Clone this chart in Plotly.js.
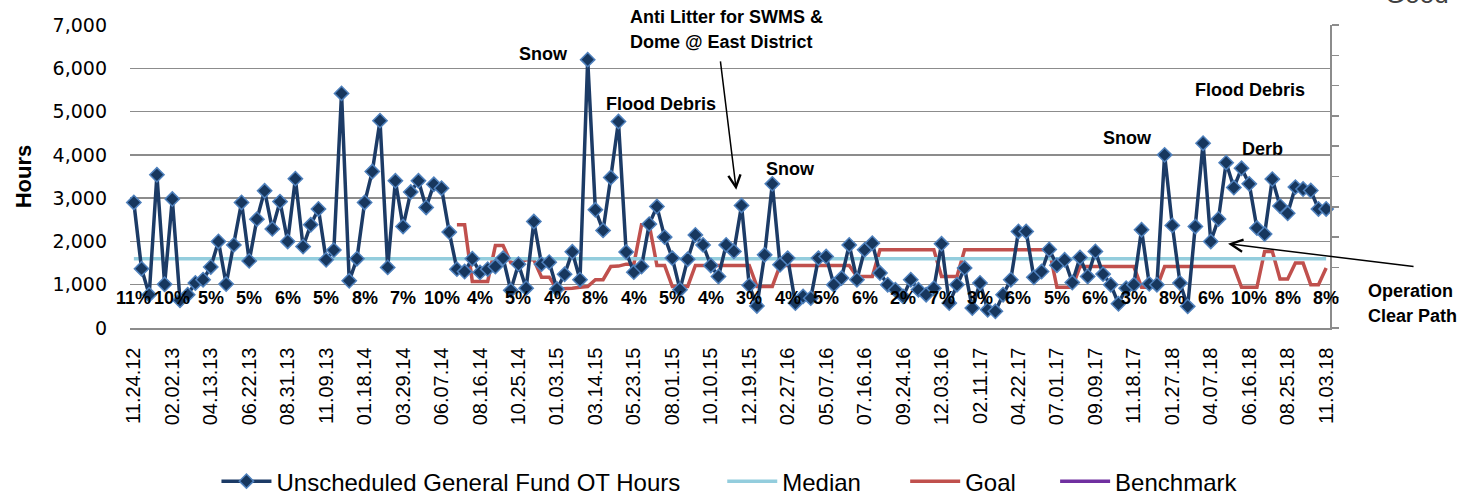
<!DOCTYPE html>
<html><head><meta charset="utf-8">
<script src="https://cdn.plot.ly/plotly-3.0.1.min.js"></script>
<style>html,body{margin:0;padding:0;background:#fff;} #chart{width:1468px;height:498px;}</style>
</head><body><div id="chart"></div>
<script>
// ---------- DATA ----------
const startDate = '2012-11-24';   // first bi-weekly period
const periodDays = 14;
const otHours = [
 2900,1370,770,3540,1010,2980,640,770,1040,1115,
 1410,2000,1015,1920,2900,1550,2515,3170,2290,2920,
 2000,3450,1880,2385,2750,1575,1800,5420,1090,1600,
 2900,3615,4790,1400,3400,2345,3140,3400,2785,3320,
 3230,2215,1360,1305,1600,1285,1360,1420,1615,870,
 1475,920,2460,1475,1520,900,1240,1760,1115,6200,
 2730,2255,3475,4770,1755,1290,1420,2400,2805,2100,
 1615,885,1590,2150,1920,1445,1190,1920,1770,2830,
 985,510,1690,3330,1460,1615,575,730,690,1615,
 1650,1000,1155,1920,1115,1805,1960,1270,1000,885,
 730,1115,885,770,920,1945,575,1000,1385,460,
 1040,420,385,770,1115,2230,2230,1170,1305,1815,
 1450,1575,1050,1630,1190,1770,1245,1000,560,920,
 1000,2270,1020,1000,4000,2370,1040,500,2345,4270,
 2000,2520,3820,3245,3690,3330,2310,2170,3440,2820,
 2650,3255,3210,3175,2750,2750
];
const medianValue = 1600;
const goalStartIndex = 42;
const goalHours = [
 2385,2385,1075,1075,1075,1905,1905,1515,1515,1575,
 1575,1175,1175,900,900,920,940,960,1115,1115,
 1420,1430,1475,1475,2385,2385,1445,1445,960,960,
 960,1445,1445,1445,1445,1445,1445,1445,1445,960,
 960,960,1445,1445,1445,1445,1445,1445,1445,1445,
 1445,1445,1190,1190,1190,1805,1805,1805,1805,1805,
 1805,1805,1805,1190,1190,1190,1805,1805,1805,1805,
 1805,1805,1805,1805,1805,1805,1805,1805,940,940,
 940,1420,1420,1420,1420,1420,1420,1420,1420,940,
 940,940,1420,1420,1420,1420,1420,1420,1420,1420,
 1420,1420,940,940,940,1770,1770,1130,1130,1500,
 1500,1000,1000,1385
];
const benchmarkHours = [null];   // no benchmark values shown in the chart
const tickLabels = ['11.24.12','02.02.13','04.13.13','06.22.13','08.31.13','11.09.13','01.18.14','03.29.14',
 '06.07.14','08.16.14','10.25.14','01.03.15','03.14.15','05.23.15','08.01.15','10.10.15','12.19.15',
 '02.27.16','05.07.16','07.16.16','09.24.16','12.03.16','02.11.17','04.22.17','07.01.17','09.09.17',
 '11.18.17','01.27.18','04.07.18','06.16.18','08.25.18','11.03.18'];
const pctLabels = ['11%','10%','5%','5%','6%','5%','8%','7%','10%','4%','5%','4%','8%','4%','5%','4%',
 '3%','4%','5%','6%','2%','7%','3%','6%','5%','6%','3%','8%','6%','10%','8%','8%'];

// ---------- categories (bi-weekly dates) ----------
function fmt(d){const p=n=>String(n).padStart(2,'0');return p(d.getUTCMonth()+1)+'.'+p(d.getUTCDate())+'.'+p(d.getUTCFullYear()%100);}
const t0 = Date.parse(startDate+'T00:00:00Z');
const categories = otHours.map((_,i)=>fmt(new Date(t0 + i*periodDays*86400000)));

// ---------- layout helpers ----------
const W=1468,H=498;
const M={l:129.5,r:138,t:25,b:169.7};
const PW=W-M.l-M.r, PH=H-M.t-M.b;
const px=x=>(x-M.l)/PW, py=y=>(H-M.b-y)/PH;

const navy='#17375e', navyLine='#1c3b66', edge='#4f81bd';
const annFont={family:'Liberation Sans, Arial, sans-serif',size:18,color:'#000',weight:'bold'};
function label(text,x,y,xanchor){return {xref:'paper',yref:'paper',x:px(x),y:py(y),text:text,showarrow:false,
  xanchor:xanchor||'center',yanchor:'middle',font:annFont};}
function arrow(hx,hy,tx,ty){return {xref:'paper',yref:'paper',x:px(hx),y:py(hy),ax:tx-hx,ay:ty-hy,text:'',
  showarrow:true,arrowhead:5,arrowsize:1.6,arrowwidth:1.5,arrowcolor:'#000',standoff:0,startstandoff:0};}

const annotations=[
  label('Snow',543,54),
  label('Anti Litter for SWMS &',628,17,'left'),
  label('Dome @ East District',628,42,'left'),
  label('Flood Debris',661,104),
  label('Snow',790,169),
  label('Snow',1127,138),
  label('Flood Debris',1250,90),
  label('Derb',1262,149),
  label('Operation',1366,291,'left'),
  label('Clear Path',1366,316,'left'),
  {xref:'paper',yref:'paper',x:px(1383),y:py(-6),text:'Good',showarrow:false,xanchor:'left',yanchor:'middle',
   font:{family:'Liberation Sans, Arial, sans-serif',size:26,color:'#404040'}},
  arrow(736,190,720,60),
  arrow(1228,244,1415,267)
];
tickLabels.forEach((t,k)=>{
  annotations.push({xref:'x',yref:'paper',x:t,y:py(298),text:pctLabels[k],showarrow:false,
    xanchor:'center',yanchor:'middle',font:annFont});
});

const traces=[
  {x:categories.slice(goalStartIndex),y:goalHours,type:'scatter',mode:'lines',name:'Goal',legend:'legend3',
   line:{color:'#c0504d',width:3.5}},
  {x:categories,y:categories.map(()=>medianValue),type:'scatter',mode:'lines',name:'Median',legend:'legend2',
   line:{color:'#93cddd',width:3.5}},
  {x:categories.slice(0,benchmarkHours.length),y:benchmarkHours,type:'scatter',mode:'lines',name:'Benchmark',legend:'legend4',
   line:{color:'#7030a0',width:3.5}},
  {x:categories,y:otHours,type:'scatter',mode:'lines+markers',name:'Unscheduled General Fund OT Hours',legend:'legend',
   line:{color:navyLine,width:3.5},marker:{symbol:'diamond',size:11,color:navy,line:{color:edge,width:1.5}},
   cliponaxis:false},
  {x:[categories[0]],y:[null],yaxis:'y2',type:'scatter',mode:'lines',showlegend:false,hoverinfo:'skip'}
];

function legendAt(lineStart){
  return {orientation:'h',xref:'paper',yref:'paper',x:px(lineStart-5),y:py(482),xanchor:'left',yanchor:'middle',
    font:{family:'Liberation Sans, Arial, sans-serif',size:24,color:'#000'},itemwidth:50,borderwidth:0,
    bgcolor:'rgba(0,0,0,0)'};
}

const layout={
  width:W,height:H,margin:{l:M.l,r:M.r,t:M.t,b:M.b,pad:0,autoexpand:false},
  paper_bgcolor:'#fff',plot_bgcolor:'#fff',showlegend:true,
  font:{family:'Liberation Sans, Arial, sans-serif',color:'#000'},
  xaxis:{type:'category',categoryorder:'array',categoryarray:categories,range:[-0.5,categories.length-0.5],
    tickmode:'array',tickvals:tickLabels,ticktext:tickLabels,tickangle:-90,ticks:'',automargin:false,
    tickfont:{family:'Liberation Sans, Arial, sans-serif',size:20,color:'#000'},ticklabelstandoff:10,
    showgrid:false,showline:true,linecolor:'#8c8c8c',linewidth:1.5,zeroline:false},
  yaxis:{range:[0,7000],dtick:1000,tickformat:',d',ticks:'',showline:false,automargin:false,
    gridcolor:'#8c8c8c',gridwidth:1.5,zeroline:false,
    tickfont:{family:'DejaVu Sans, sans-serif',size:19,color:'#000'},ticklabelstandoff:22,
    title:{text:'Hours',font:{family:'Liberation Sans, Arial, sans-serif',size:22,weight:'bold',color:'#000'},standoff:14}},
  yaxis2:{overlaying:'y',side:'right',range:[0,10],dtick:1,showticklabels:false,ticks:'outside',ticklen:7,automargin:false,
    tickwidth:1.5,tickcolor:'#8c8c8c',showline:true,linecolor:'#8c8c8c',linewidth:2,showgrid:false,zeroline:false},
  legend:legendAt(221),
  legend2:legendAt(727),
  legend3:legendAt(910),
  legend4:legendAt(1060),
  annotations:annotations
};
Plotly.newPlot('chart',traces,layout,{displayModeBar:false,staticPlot:true});
</script></body></html>
